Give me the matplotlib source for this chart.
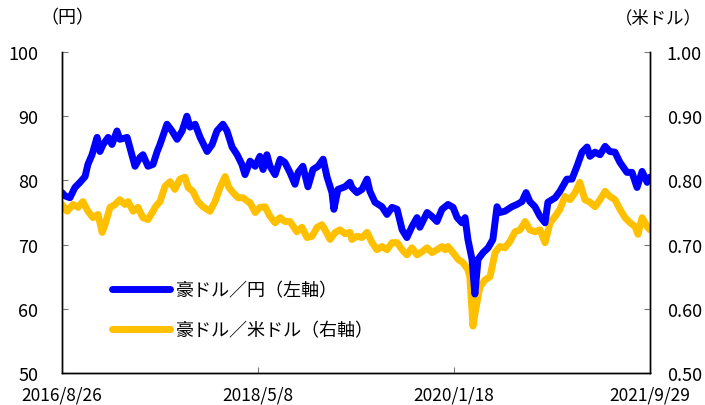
import matplotlib
matplotlib.use("Agg")
import matplotlib.pyplot as plt
import pandas as pd

plt.rcParams['font.family'] = ['Noto Sans CJK JP', 'DejaVu Sans']

start = "2016-08-26"
tick_dates = ["2016-08-26", "2018-05-08", "2020-01-18", "2021-09-29"]
tick_labels = ["2016/8/26", "2018/5/8", "2020/1/18", "2021/9/29"]

# AUD/JPY (left axis): days since start, value
jpy_days = [0, 9, 25, 41, 57, 73, 82, 95, 111, 120, 130, 146, 158, 174, 183, 206, 221, 231,
            247, 256, 272, 288, 301, 310, 332, 348, 364, 380, 395, 405, 421, 437, 459, 475,
            490, 509, 522, 538, 554, 569, 579, 595, 611, 626, 636, 648, 658, 674, 690, 705,
            721, 737, 747, 762, 778, 794, 810, 826, 838, 854, 860, 873, 895, 911, 917, 933,
            949, 965, 974, 990, 1012, 1028, 1044, 1060, 1076, 1091, 1107, 1123, 1132, 1155,
            1170, 1186, 1202, 1221, 1237, 1250, 1265, 1275, 1284, 1297, 1306, 1316, 1332,
            1348, 1363, 1376, 1385, 1401, 1423, 1439, 1455, 1468, 1480, 1496, 1512, 1528,
            1537, 1560, 1575, 1597, 1613, 1629, 1645, 1661, 1670, 1686, 1702, 1718, 1733,
            1749, 1765, 1787, 1803, 1819, 1835, 1851, 1860]
jpy_vals = [78.1, 77.6, 77.3, 78.9, 79.7, 80.6, 82.5, 84.0, 86.7, 84.5, 85.6, 86.7, 85.6, 87.7,
            86.4, 86.7, 84.0, 82.2, 83.6, 84.0, 82.2, 82.5, 84.5, 85.6, 88.75, 87.7, 86.4,
            87.7, 90.0, 88.3, 88.75, 86.7, 84.5, 85.6, 87.7, 88.75, 87.7, 85.2, 84.0, 82.5,
            80.9, 83.0, 82.2, 83.75, 81.7, 84.0, 82.2, 80.9, 83.3, 82.8, 81.25, 79.4, 81.25,
            82.2, 79.0, 81.7, 82.2, 83.3, 80.6, 78.1, 75.5, 78.6, 79.0, 79.7, 78.9, 78.1,
            78.6, 80.2, 78.3, 76.6, 75.9, 74.7, 75.8, 75.5, 72.3, 71.1, 72.8, 74.2, 72.7,
            75.0, 74.4, 73.6, 75.5, 76.25, 75.8, 74.2, 73.4, 74.2, 70.8, 67.7, 62.3, 67.7,
            68.75, 69.5, 70.8, 75.9, 75.0, 75.2, 75.9, 76.25, 76.7, 78.1, 76.7, 75.9, 74.4,
            73.4, 76.6, 77.3, 78.3, 80.2, 80.2, 82.2, 84.4, 85.2, 83.75, 84.4, 84.0, 85.3,
            84.5, 84.4, 82.8, 81.25, 81.25, 78.9, 81.4, 79.7, 80.5]

# AUD/USD (right axis)
usd_days = [0, 16, 35, 51, 66, 82, 98, 114, 127, 136, 152, 168, 183, 199, 209, 225, 240, 256,
            272, 288, 297, 310, 326, 342, 357, 373, 389, 399, 414, 430, 446, 468, 484, 500,
            516, 528, 541, 557, 573, 588, 595, 611, 626, 642, 658, 674, 690, 705, 721, 743,
            759, 775, 791, 807, 822, 832, 848, 864, 879, 895, 911, 917, 933, 949, 965, 981,
            996, 1012, 1028, 1044, 1060, 1076, 1091, 1107, 1123, 1139, 1155, 1170, 1186,
            1202, 1212, 1221, 1237, 1253, 1268, 1284, 1290, 1300, 1309, 1322, 1338, 1354,
            1370, 1385, 1401, 1417, 1433, 1449, 1465, 1480, 1496, 1512, 1528, 1544, 1560,
            1575, 1591, 1607, 1623, 1638, 1654, 1670, 1686, 1702, 1718, 1733, 1749, 1765,
            1781, 1797, 1813, 1822, 1835, 1851, 1860]
usd_vals = [0.7625, 0.752, 0.7625, 0.758, 0.767, 0.752, 0.742, 0.747, 0.719, 0.731, 0.758,
            0.7625, 0.770, 0.7625, 0.767, 0.752, 0.758, 0.742, 0.739, 0.752, 0.760, 0.767,
            0.791, 0.798, 0.786, 0.802, 0.805, 0.789, 0.783, 0.767, 0.759, 0.752, 0.767,
            0.789, 0.806, 0.789, 0.781, 0.773, 0.773, 0.767, 0.765, 0.750, 0.758, 0.759,
            0.744, 0.734, 0.742, 0.736, 0.736, 0.720, 0.727, 0.711, 0.713, 0.727, 0.731,
            0.723, 0.708, 0.719, 0.723, 0.717, 0.719, 0.708, 0.713, 0.711, 0.719, 0.703,
            0.692, 0.697, 0.692, 0.703, 0.703, 0.692, 0.684, 0.695, 0.684, 0.689, 0.695,
            0.6875, 0.692, 0.697, 0.692, 0.697, 0.6875, 0.677, 0.672, 0.661, 0.650, 0.573,
            0.600, 0.634, 0.645, 0.650, 0.6875, 0.697, 0.695, 0.705, 0.720, 0.723, 0.736,
            0.723, 0.720, 0.723, 0.703, 0.734, 0.744, 0.755, 0.775, 0.770, 0.781, 0.797,
            0.770, 0.766, 0.759, 0.770, 0.783, 0.775, 0.770, 0.755, 0.742, 0.734, 0.728,
            0.716, 0.742, 0.728, 0.723]

label_jpy = "豪ドル／円（左軸）"
label_usd = "豪ドル／米ドル（右軸）"

t0 = pd.Timestamp(start)
jpy_dates = t0 + pd.to_timedelta(jpy_days, unit="D")
usd_dates = t0 + pd.to_timedelta(usd_days, unit="D")

fig = plt.figure(figsize=(7.05, 4.06), dpi=100)
ax = fig.add_axes([62/705, 1-374/406, 588/705, 321/406])
ax2 = ax.twinx()

l2, = ax2.plot(usd_dates, usd_vals, color="#FFC000", lw=5, solid_joinstyle="round",
               solid_capstyle="round")
l1, = ax.plot(jpy_dates, jpy_vals, color="#0000FF", lw=5, solid_joinstyle="round",
              solid_capstyle="round")
ax.set_zorder(ax2.get_zorder() + 1)
ax.patch.set_visible(False)

ax.set_xlim(pd.Timestamp(tick_dates[0]), pd.Timestamp(tick_dates[-1]))
ax.set_ylim(50, 100)
ax2.set_ylim(0.5, 1.0)
ax.set_yticks([50, 60, 70, 80, 90, 100])
ax2.set_yticks([0.5, 0.6, 0.7, 0.8, 0.9, 1.0])
ax2.set_yticklabels([f"{v:.2f}" for v in [0.5, 0.6, 0.7, 0.8, 0.9, 1.0]])
ax.set_xticks([pd.Timestamp(d) for d in tick_dates])
ax.set_xticklabels(tick_labels)

for a in (ax, ax2):
    a.spines["top"].set_visible(False)
    for s in ("left", "right", "bottom"):
        a.spines[s].set_color("black")
        a.spines[s].set_linewidth(1.0)

ax.tick_params(axis="y", direction="in", length=4.5, color="#777777", labelsize=13, pad=17)
ax2.tick_params(axis="y", direction="in", length=4.5, color="#777777", labelsize=13, pad=12)
ax.tick_params(axis="x", direction="in", length=4, color="#777777", labelsize=12.5, pad=9)

fig.text(67/705, 1-18/406, "（円）", ha="center", va="center", fontsize=13)
fig.text(658/705, 1-18/406, "（米ドル）", ha="center", va="center", fontsize=12.5)

ax.legend([l1, l2], [label_jpy, label_usd], loc="upper left",
          bbox_to_anchor=(0.085, 0.285), frameon=False, fontsize=13,
          handlelength=3.2, handletextpad=0.35, labelspacing=1.2,
          borderpad=0, borderaxespad=0)

fig.savefig("out.png", dpi=100)
